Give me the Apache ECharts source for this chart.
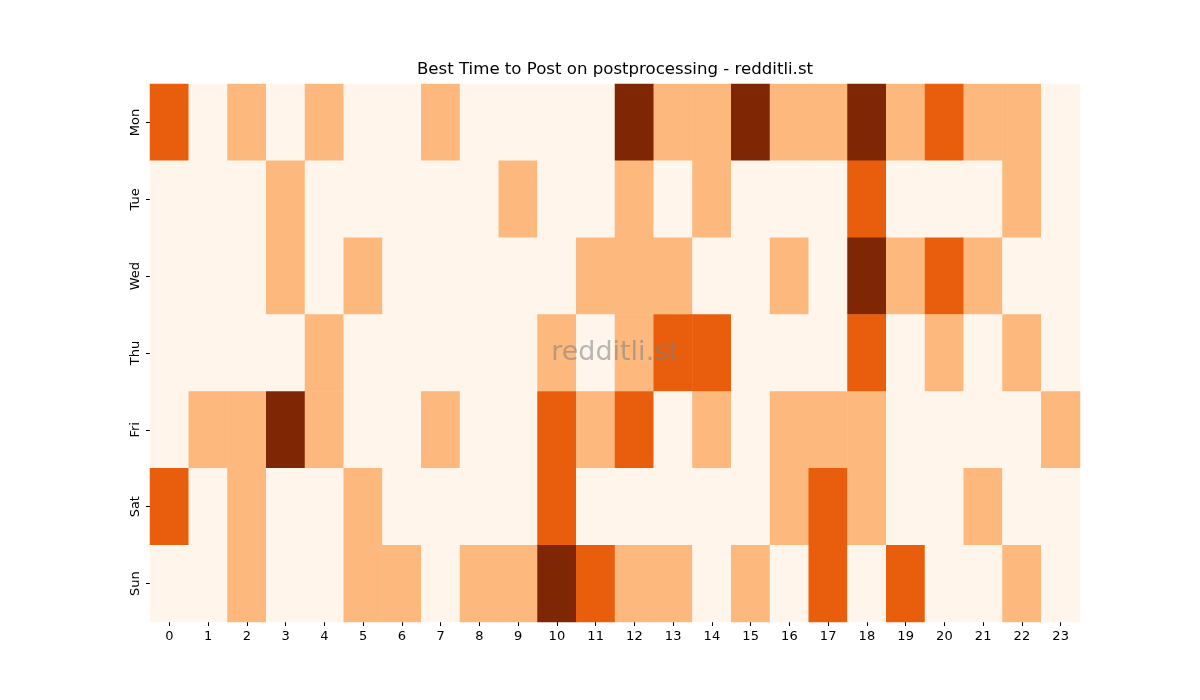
<!DOCTYPE html>
<html>
<head>
    <meta charset="UTF-8">
    <title>Best Time to Post</title>
    <script src="https://cdn.jsdelivr.net/npm/echarts@6/dist/echarts.min.js"></script>
    <style>
        html, body { margin: 0; padding: 0; background: #fff; }
        #main { width: 1200px; height: 700px; }
    </style>
</head>
<body>
<div id="main"></div>
<script>
    // hours on x axis, days on y axis
    var hours = ['0', '1', '2', '3', '4', '5', '6', '7', '8', '9', '10', '11',
        '12', '13', '14', '15', '16', '17', '18', '19', '20', '21', '22', '23'];
    var days = ['Mon', 'Tue', 'Wed', 'Thu', 'Fri', 'Sat', 'Sun'];

    // post levels per hour
    var mon = [2, 0, 1, 0, 1, 0, 0, 1, 0, 0, 0, 0, 3, 1, 1, 3, 1, 1, 3, 1, 2, 1, 1, 0];
    var tue = [0, 0, 0, 1, 0, 0, 0, 0, 0, 1, 0, 0, 1, 0, 1, 0, 0, 0, 2, 0, 0, 0, 1, 0];
    var wed = [0, 0, 0, 1, 0, 1, 0, 0, 0, 0, 0, 1, 1, 1, 0, 0, 1, 0, 3, 1, 2, 1, 0, 0];
    var thu = [0, 0, 0, 0, 1, 0, 0, 0, 0, 0, 1, 0, 1, 2, 2, 0, 0, 0, 2, 0, 1, 0, 1, 0];
    var fri = [0, 1, 1, 3, 1, 0, 0, 1, 0, 0, 2, 1, 2, 0, 1, 0, 1, 1, 1, 0, 0, 0, 0, 1];
    var sat = [2, 0, 1, 0, 0, 1, 0, 0, 0, 0, 2, 0, 0, 0, 0, 0, 1, 2, 1, 0, 0, 1, 0, 0];
    var sun = [0, 0, 1, 0, 0, 1, 1, 0, 1, 1, 3, 2, 1, 1, 0, 1, 0, 2, 0, 2, 0, 0, 1, 0];

    var levelColors = ['#fff5eb', '#fdb97d', '#e95e0d', '#7f2704'];

    var rows = [mon, tue, wed, thu, fri, sat, sun];
    var cells = [];
    for (var d = 0; d < rows.length; d++) {
        for (var h = 0; h < rows[d].length; h++) {
            cells.push([h, d, rows[d][h]]);
        }
    }

    var chart = echarts.init(document.getElementById('main'));
    chart.setOption({
        animation: false,
        textStyle: { fontFamily: 'DejaVu Sans' },
        grid: { left: 150, right: 120, top: 84, bottom: 78 },
        xAxis: {
            type: 'category',
            data: hours,
            axisLine: { show: false },
            axisTick: { show: true, alignWithLabel: true, length: 4, lineStyle: { color: '#000' } },
            axisLabel: { color: '#000', fontSize: 13, margin: 8 },
            splitArea: { show: false }
        },
        yAxis: {
            type: 'category',
            data: days,
            inverse: true,
            axisLine: { show: false },
            axisTick: { show: true, alignWithLabel: true, length: 4, lineStyle: { color: '#000' } },
            axisLabel: { color: '#000', fontSize: 13, rotate: 90, margin: 8 }
        },
        visualMap: {
            show: false,
            type: 'piecewise',
            dimension: 2,
            pieces: [
                { value: 0, color: levelColors[0] },
                { value: 1, color: levelColors[1] },
                { value: 2, color: levelColors[2] },
                { value: 3, color: levelColors[3] }
            ]
        },
        graphic: [{
            // title
            type: 'text',
            x: 615,
            y: 61,
            style: {
                text: 'Best Time to Post on postprocessing - redditli.st',
                fontSize: 16.6,
                fontFamily: 'DejaVu Sans',
                fill: '#000',
                align: 'center'
            }
        }, {
            // watermark
            type: 'text',
            x: 615,
            y: 339,
            z: 100,
            style: {
                text: 'redditli.st',
                fontSize: 27,
                fontFamily: 'DejaVu Sans',
                fill: 'rgba(128,128,128,0.55)',
                align: 'center'
            }
        }],
        series: [{
            type: 'heatmap',
            data: cells,
            itemStyle: { borderWidth: 0 },
            emphasis: { disabled: true }
        }]
    });
</script>
</body>
</html>
